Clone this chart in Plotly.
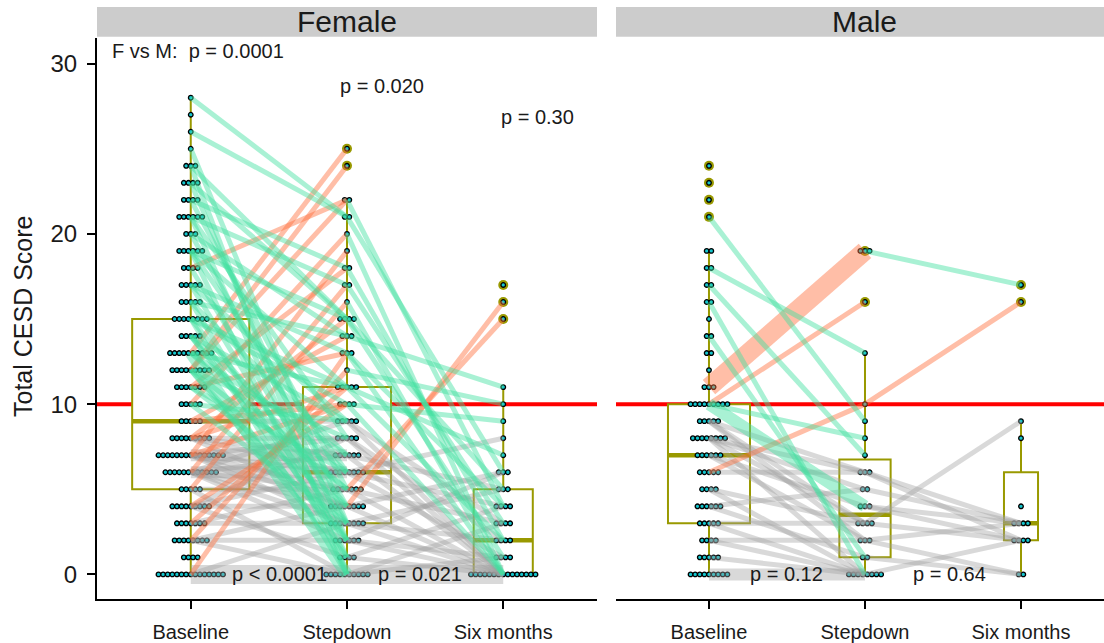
import math
from collections import Counter

import numpy as np
import plotly.graph_objects as go

VISITS = ["Baseline", "Stepdown", "Six months"]
CUTOFF = 10  # CESD depression cut-off

# ---- Female participants (aligned by participant; shorter lists = visit missed) ----
f_baseline = [
    0, 0, 0, 13, 2, 21, 4, 23, 6, 2, 25, 7, 3, 7, 20, 4, 6, 22, 5, 8, 6, 19,
    7, 7, 8, 4, 9, 6, 15, 4, 19, 13, 2, 0, 17, 9, 24, 23, 5, 21, 22, 10, 26, 18,
    11,
    24, 19, 15, 13, 5, 16, 12, 17, 14, 12, 18, 14, 10, 6, 0, 15, 11, 6, 2, 8,
    13, 12, 7, 3, 11, 14, 6, 7, 4, 16, 13, 6, 8, 21, 12, 7, 17, 14, 10, 9, 7,
    15, 3, 8, 11, 20, 16, 19, 8, 6, 11, 7, 28, 12, 12, 13,
    0, 0, 0, 0, 0, 0, 0, 0, 0, 0, 1, 1, 1, 1, 2, 2, 2, 2, 3, 3, 3, 3, 4, 4, 4,
    4, 5, 5, 6, 6, 6, 7, 7, 7, 7, 7, 7, 8, 8, 8, 9, 9, 10, 10, 11, 11, 12, 12,
    12, 13, 13, 13, 13, 14, 15, 15, 15, 15, 16, 16, 17, 17, 18, 18, 19, 19, 20,
    21, 21, 21, 22, 22, 23, 23, 24, 27,
]
f_stepdown = [
    0, 0, 0, 0, 0, 1, 1, 2, 2, 2, 3, 3, 3, 4, 4, 4, 5, 5, 5, 6, 6, 6, 7, 7, 8,
    8, 9, 9, 10, 10, 11, 11, 12, 13, 13, 14, 15, 15, 16, 17, 18, 20, 21, 22,
    None,
    0, 0, 0, 0, 0, 1, 1, 2, 2, 2, 3, 3, 3, 3, 3, 4, 4, 4, 4, 4, 5, 5, 5, 5, 6,
    6, 6, 6, 6, 7, 7, 7, 7, 8, 8, 8, 9, 9, 9, 10, 10, 11, 11, 11, 13, 14, 14,
    15, 15, 17, 18, 19, 21, 22, 24, 25,
]
f_sixmonth = [
    0, 0, 0, 3, 1, 4, 0, 6, 1, 0, 5, 2, 0, 16, 6, 0, 15, 3, 0, 8, 4, 1, 5, 0,
    2, 0, 3, 0, 9, 0, 7, 2, 10, 4, 0, 11, 5, 1, 0, 3, 2, 0, 6, 4,
    17,
]

# ---- Male participants ----
m_baseline = [
    11, 6, 3, 8, 6, 9, 4, 7, 10, 2, 7, 4, 0, 5, 3,
    11, 11, 10, 21, 18, 17, 16, 14, 10, 10, 0, 1, 2, 3, 5, 8, 9, 5, 9, 8, 8,
    0, 0, 0, 0, 0, 0, 0, 1, 1, 1, 1, 2, 2, 3, 3, 4, 4, 4, 4, 5, 6, 6, 6, 7, 7,
    7, 7, 8, 8, 8, 8, 9, 9, 10, 10, 10, 10, 10, 12, 13, 13, 14, 15, 16, 17, 18,
    19, 19, 22, 23, 24,
]
m_stepdown = [
    19, 10, 3, 3, 6, 6, 5, 4, 4, 2, 2, 1, 0, None, None,
    19, 19, 16, 9, 13, 7, 0, 1, 8, 4, 0, 0, 0, 0, 0, 0, 2, 3, 3, 5, 6,
]
m_sixmonth = [17, 16, 9, 2, 3, 2, 3, 3, 2, 3, 0, 0, 2, 8, 4]

# Visit-to-visit tests within each sex, and female-vs-male tests at each visit
within_p = {
    "Female": ["p < 0.0001", "p = 0.021"],
    "Male": ["p = 0.12", "p = 0.64"],
}
sex_p = ["p = 0.0001", "p = 0.020", "p = 0.30"]

# ---- styling ----
FONT = "Liberation Sans, Arial, sans-serif"
TXT = "#1a1a1a"
OLIVE = "#999900"
DOT_FILL = "#14C6CE"
GREEN = "rgba(64,224,160,0.45)"
ORANGE = "rgba(255,110,60,0.45)"
GRAY = "rgba(160,160,160,0.40)"
W, H = 1104, 643
PX_PER_UNIT = 156.0
DOT_PITCH = 4.6 / PX_PER_UNIT
BOX_MAX_W = 0.75


def pad(vals, n):
    return list(vals) + [None] * (n - len(vals))


def seg_color(a, b):
    if max(a, b) < CUTOFF:
        return GRAY
    return ORANGE if b > a else GREEN


panels = [
    ("Female", f_baseline, f_stepdown, f_sixmonth, "x", "y"),
    ("Male", m_baseline, m_stepdown, m_sixmonth, "x2", "y2"),
]

n_max = max(
    sum(v is not None for v in vals)
    for _, b, s, m, _, _ in panels
    for vals in (b, s, m)
)

fig = go.Figure()

for name, base, step, six, xa, ya in panels:
    n = len(base)
    visits = [list(base), pad(step, n), pad(six, n)]

    # boxes (ggplot-style quartiles, 1.5 IQR whiskers, width ~ sqrt(n))
    for k, vals in enumerate(visits):
        v = np.array([x for x in vals if x is not None], dtype=float)
        q1, med, q3 = np.percentile(v, [25, 50, 75])
        iqr = q3 - q1
        lo = v[v >= q1 - 1.5 * iqr].min()
        hi = v[v <= q3 + 1.5 * iqr].max()
        width = BOX_MAX_W * math.sqrt(len(v) / n_max)
        pos = k + 1
        fig.add_trace(go.Box(
            x=[pos], q1=[q1], median=[med], q3=[q3],
            lowerfence=[lo], upperfence=[hi], width=width,
            fillcolor="white", line=dict(color=OLIVE, width=2),
            whiskerwidth=0, boxpoints=False, hoverinfo="skip",
            xaxis=xa, yaxis=ya,
        ))
        fig.add_trace(go.Scatter(
            x=[pos - width / 2, pos + width / 2], y=[med, med], mode="lines",
            line=dict(color=OLIVE, width=4.5), hoverinfo="skip",
            xaxis=xa, yaxis=ya,
        ))
        out = sorted(set(v[(v < lo) | (v > hi)].tolist()))
        if out:
            fig.add_trace(go.Scatter(
                x=[pos] * len(out), y=out, mode="markers",
                marker=dict(color=OLIVE, size=10), hoverinfo="skip",
                xaxis=xa, yaxis=ya,
            ))

    # centred dot stacks
    dx, dy = [], []
    for k, vals in enumerate(visits):
        counts = Counter(x for x in vals if x is not None)
        for val, c in counts.items():
            for j in range(c):
                dx.append(k + 1 + (j - (c - 1) / 2) * DOT_PITCH)
                dy.append(val)
    fig.add_trace(go.Scatter(
        x=dx, y=dy, mode="markers",
        marker=dict(size=4.6, color=DOT_FILL, line=dict(color="#000000", width=1.3)),
        hoverinfo="skip", xaxis=xa, yaxis=ya,
    ))

    # participant trajectories between consecutive visits; identical moves merge
    moves = Counter()
    for i in range(n):
        for k in range(2):
            a, b = visits[k][i], visits[k + 1][i]
            if a is not None and b is not None:
                moves[(k, a, b)] += 1
    for colour in (GRAY, ORANGE, GREEN):
        for (k, a, b), c in sorted(moves.items()):
            if seg_color(a, b) != colour:
                continue
            fig.add_trace(go.Scatter(
                x=[k + 1, k + 2], y=[a, b], mode="lines",
                line=dict(color=colour, width=5 + 7 * (c - 1)),
                hoverinfo="skip", xaxis=xa, yaxis=ya,
            ))

    # cut-off line
    fig.add_shape(type="line", xref=f"{xa} domain", yref=ya, x0=0, x1=1,
                  y0=CUTOFF, y1=CUTOFF, line=dict(color="red", width=4),
                  layer="below")

    # within-sex p values between visits
    for (xpos, txt) in zip((1.57, 2.47) if name == "Female" else (1.5, 2.54),
                           within_p[name]):
        fig.add_annotation(x=xpos, y=0, xref=xa, yref=ya, text=txt,
                           showarrow=False, font=dict(size=20, color=TXT),
                           xanchor="center", yanchor="middle")

# female vs male p values at each visit
fig.add_annotation(x=0.483, y=30.75, xref="x", yref="y",
                   text="F vs M:\u00a0\u00a0" + sex_p[0], showarrow=False,
                   font=dict(size=20, color=TXT), xanchor="left", yanchor="middle")
fig.add_annotation(x=2.227, y=28.7, xref="x", yref="y", text=sex_p[1],
                   showarrow=False, font=dict(size=20, color=TXT),
                   xanchor="center", yanchor="middle")
fig.add_annotation(x=3.22, y=26.85, xref="x", yref="y", text=sex_p[2],
                   showarrow=False, font=dict(size=20, color=TXT),
                   xanchor="center", yanchor="middle")

# facet strips
strip_y0, strip_y1 = (H - 37) / H, (H - 7) / H
for label, x0, x1 in (("Female", 97, 597), ("Male", 616, 1113)):
    fig.add_shape(type="rect", xref="paper", yref="paper",
                  x0=x0 / W, x1=min(x1, W) / W, y0=strip_y0, y1=strip_y1,
                  fillcolor="#CCCCCC", line=dict(width=0), layer="below")
    fig.add_annotation(x=(x0 + x1) / 2 / W, y=(H - 22) / H, xref="paper",
                       yref="paper", text=label, showarrow=False,
                       font=dict(size=30, color=TXT), xanchor="center",
                       yanchor="middle")

# y-axis title
fig.add_annotation(x=23 / W, y=(H - 319) / H, xref="paper", yref="paper",
                   text="Total CESD Score", textangle=-90, showarrow=False,
                   font=dict(size=25, color=TXT), xanchor="center",
                   yanchor="middle")

y_dom = [40 / H, 605 / H]
y_rng = [-1.46, 31.52]
xcommon = dict(
    tickvals=[1, 2, 3], ticktext=VISITS, ticks="outside", ticklen=8,
    tickwidth=2, tickcolor="black", showline=True, linecolor="black",
    linewidth=2, showgrid=False, zeroline=False,
    tickfont=dict(size=20, color=TXT, family=FONT), ticklabelstandoff=6,
)
fig.update_layout(
    width=W, height=H, margin=dict(l=0, r=0, t=0, b=0),
    plot_bgcolor="white", paper_bgcolor="white", showlegend=False,
    boxmode="overlay", font=dict(family=FONT, color=TXT),
    xaxis=dict(domain=[97 / W, 597 / W], range=[0.4, 3.6], anchor="y", **xcommon),
    xaxis2=dict(domain=[616 / W, 1.0], range=[0.404, 3.532], anchor="y2", **xcommon),
    yaxis=dict(domain=y_dom, range=y_rng, anchor="x", tickvals=[0, 10, 20, 30],
               ticks="outside", ticklen=8, tickwidth=2, tickcolor="black",
               showline=True, linecolor="black", linewidth=2, showgrid=False,
               zeroline=False, ticklabelstandoff=5,
               tickfont=dict(size=24, color=TXT, family=FONT)),
    yaxis2=dict(domain=y_dom, range=y_rng, anchor="x2", showline=False,
                showticklabels=False, ticks="", showgrid=False, zeroline=False),
)

fig.write_html("out.html")
